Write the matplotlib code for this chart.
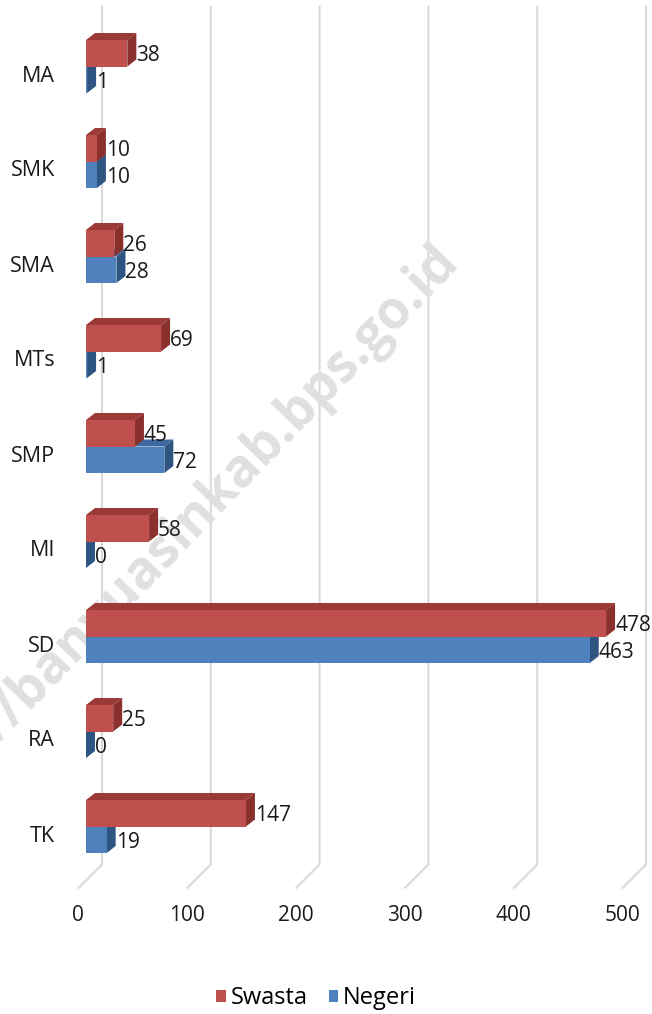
import matplotlib.pyplot as plt
from matplotlib.patches import Polygon, Patch

categories = ["TK", "RA", "SD", "MI", "SMP", "MTs", "SMA", "SMK", "MA"]
swasta = [147, 25, 478, 58, 45, 69, 26, 10, 38]
negeri = [19, 0, 463, 0, 72, 1, 28, 10, 1]
ticks = [0, 100, 200, 300, 400, 500]

RED, RED_TOP, RED_SIDE = "#C0504D", "#9B3A37", "#8A302D"
BLUE, BLUE_TOP, BLUE_SIDE = "#4F81BD", "#3D69A0", "#2E5482"
GRID = "#d9d9d9"

plt.rcParams["font.family"] = ["Open Sans", "DejaVu Sans"]

fig = plt.figure(figsize=(6.52, 10.14), dpi=100)
ax = fig.add_axes([0, 0, 1, 1])

# scale: 1 value unit ~ 1.088 px, one category step ~ 95 px
SX, SY = 1.088, 95.0
ax.set_xlim(-86 / SX, (652 - 86) / SX)
ax.set_ylim(-(1014 - 826.5) / SY, 826.5 / SY)
ax.axis("off")

H = 26.5 / SY             # thickness of one bar
DX, DY = 9 / SX, 7 / SY   # fake 3d depth

# back wall gridlines + floor slant
top = 821 / SY
knee = -38 / SY
floor = -62 / SY
for t in ticks:
    xb = t + 16 / SX
    xf = t - 8 / SX
    ax.plot([xb, xb, xf], [top, knee, floor], color=GRID, lw=1.5, zorder=1,
            solid_capstyle="butt")
    ax.text(xf, -86.5 / SY, str(t), ha="center", va="center_baseline",
            fontsize=15, color="#1a1a1a")


def box(ax, x0, y0, w, face, topc, side, z):
    front = [(x0, y0), (x0 + w, y0), (x0 + w, y0 + H), (x0, y0 + H)]
    upper = [(x0, y0 + H), (x0 + w, y0 + H), (x0 + w + DX, y0 + H + DY),
             (x0 + DX, y0 + H + DY)]
    right = [(x0 + w, y0), (x0 + w, y0 + H), (x0 + w + DX, y0 + H + DY),
             (x0 + w + DX, y0 + DY)]
    for pts, c in [(upper, topc), (right, side), (front, face)]:
        ax.add_patch(Polygon(pts, closed=True, facecolor=c, edgecolor="none",
                             zorder=z))


for i, cat in enumerate(categories):
    box(ax, 0, i - H, negeri[i], BLUE, BLUE_TOP, BLUE_SIDE, 3)
    box(ax, 0, i, swasta[i], RED, RED_TOP, RED_SIDE, 4)
    ax.text(swasta[i] + DX, i + H / 2, str(swasta[i]),
            ha="left", va="center_baseline", fontsize=15, color="#1a1a1a", zorder=6)
    ax.text(negeri[i] + DX, i - H / 2, str(negeri[i]),
            ha="left", va="center_baseline", fontsize=15, color="#1a1a1a", zorder=6)
    ax.text(-31 / SX, i - 7 / SY, cat, ha="right", va="center_baseline",
            fontsize=15.5, color="#1a1a1a", zorder=6)

# watermark (behind the bars and labels)
ax.text(460 / 652, 1 - 262 / 1014, "http://banyuasinkab.bps.go.id",
        transform=fig.transFigure, ha="right", va="baseline", rotation=46,
        rotation_mode="anchor", fontsize=38, fontweight="bold",
        color="#e0e0e0", zorder=2)

handles = [Patch(facecolor=RED), Patch(facecolor=BLUE)]
fig.legend(handles, ["Swasta", "Negeri"], loc="center",
           bbox_to_anchor=(316 / 652, 1 - 998 / 1014), ncol=2, frameon=False,
           fontsize=17, handlelength=0.4, handleheight=0.4,
           handletextpad=0.2, columnspacing=0.9)

fig.savefig("out.png", dpi=100)
